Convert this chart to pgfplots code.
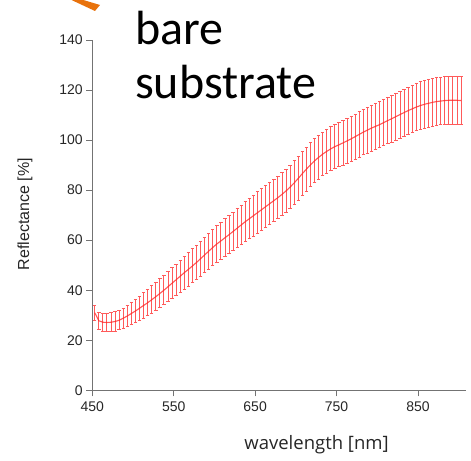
\documentclass[border=0pt]{standalone}
\usepackage{fontspec}
\setmainfont{Liberation Sans}
\newfontfamily\titlefont{Carlito}
\newfontfamily\labelfont{Open Sans}
\usepackage{pgfplots}
\usepackage{pgfplotstable}
\pgfplotsset{compat=1.18}
\usetikzlibrary{arrows.meta}

\definecolor{axisgray}{HTML}{737373}
\definecolor{ticktext}{HTML}{262626}
\definecolor{arroworange}{HTML}{E8720C}
\definecolor{barred}{HTML}{FF2020}
\definecolor{barpink}{HTML}{FF5A5A}

% mean reflectance and standard deviation of the bare substrate
\pgfplotstableread{
wl    R      err
453   31.0   3.2
458   27.8   3.6
463   27.2   3.8
468   27.1   3.9
473   27.2   4.0
478   27.5   4.0
483   28.0   4.1
488   28.8   4.2
493   29.7   4.4
498   30.7   4.6
503   31.7   4.8
508   32.8   5.0
513   33.9   5.3
518   35.0   5.5
523   36.2   5.7
528   37.4   5.9
533   38.7   6.0
538   40.0   6.1
543   41.4   6.2
548   42.8   6.3
553   44.2   6.4
558   45.6   6.6
563   47.0   6.8
568   48.3   6.9
573   49.7   7.0
578   51.1   7.1
583   52.6   7.2
588   54.1   7.3
593   55.6   7.4
598   57.1   7.5
603   58.5   7.6
608   59.7   7.6
613   61.0   7.7
618   62.2   7.8
623   63.5   7.9
628   64.8   8.0
633   66.1   8.1
638   67.4   8.2
643   68.6   8.3
648   69.8   8.4
653   71.0   8.5
658   72.2   8.5
663   73.4   8.6
668   74.6   8.6
673   75.8   8.7
678   77.0   8.7
683   78.3   8.8
688   79.7   8.8
693   81.2   8.9
698   82.9   9.0
703   84.7   9.0
708   86.6   9.0
713   88.4   9.0
718   90.1   9.0
723   91.7   9.0
728   93.1   8.9
733   94.4   8.9
738   95.5   8.9
743   96.5   9.0
748   97.4   9.0
753   98.1   9.0
758   98.9   9.1
763   99.7   9.1
768  100.5   9.2
773  101.4   9.2
778  102.3   9.3
783  103.2   9.3
788  104.0   9.4
793  104.8   9.4
798  105.5   9.5
803  106.2   9.5
808  107.0   9.5
813  107.8   9.5
818  108.6   9.6
823  109.4   9.6
828  110.2   9.6
833  111.0   9.6
838  111.8   9.6
843  112.5   9.7
848  113.2   9.7
853  113.8   9.7
858  114.3   9.7
863  114.7   9.7
868  115.1   9.7
873  115.4   9.7
878  115.6   9.7
883  115.8   9.7
888  115.9   9.7
893  115.9   9.7
898  115.9   9.7
903  115.8   9.7
}\refltable

\begin{document}
\begin{tikzpicture}
\path[use as bounding box] (-92.3bp,-70.7bp) rectangle (378.7bp,390.3bp);
\begin{axis}[
  at={(0,0)}, anchor=south west,
  scale only axis,
  width=373.7bp, height=350.3bp,
  xmin=450, xmax=909, ymin=0, ymax=140,
  axis x line*=bottom, axis y line*=left,
  axis line style={axisgray, line width=0.8bp, -},
  xtick={450,550,650,750,850},
  ytick={0,20,...,140},
  tick align=outside,
  major tick length=6bp,
  tick style={axisgray, line width=0.8bp},
  /pgf/number format/assume math mode=true,
  /pgf/number format/1000 sep={},
  tick label style={font=\fontsize{14bp}{16bp}\selectfont, text=ticktext},
  xticklabel style={yshift=-2bp},
  xlabel={\labelfont wavelength [nm]},
  ylabel={Reflectance [\%]},
  every axis x label/.style={at={(axis description cs:0.600,-0.1700)}, anchor=base,
    font=\fontsize{18.5bp}{22bp}\selectfont, text=ticktext},
  every axis y label/.style={at={(axis description cs:-0.180,0.503)}, anchor=center, rotate=90,
    font=\fontsize{16bp}{19bp}\selectfont, text=ticktext},
  clip=false,
]
% standard deviation: one capped segment per wavelength, from R-err to R+err
\addplot[
  draw=barpink, line width=1.0bp,
  quiver={u=0, v=2*\thisrow{err},
    every arrow/.append style={{Bar[width=3.4bp]}-{Bar[width=3.4bp]}}},
] table[x=wl, y expr=\thisrow{R}-\thisrow{err}] {\refltable};
% mean reflectance
\addplot[draw=barred, draw opacity=0.75, line width=1.1bp]
  table[x=wl, y=R] {\refltable};
\end{axis}
% title and pointer
\fill[arroworange] (-22.3bp,391bp) -- (-11.3bp,391bp) -- (7.7bp,385.3bp) -- (2.7bp,379.3bp) -- cycle;
\node[anchor=base west, inner sep=0pt, text=black, font=\titlefont\fontsize{48bp}{52bp}\selectfont] at (42.7bp,345.8bp) {bare};
\node[anchor=base west, inner sep=0pt, text=black, font=\titlefont\fontsize{48bp}{52bp}\selectfont] at (42.7bp,291.5bp) {substrate};
\end{tikzpicture}
\end{document}
